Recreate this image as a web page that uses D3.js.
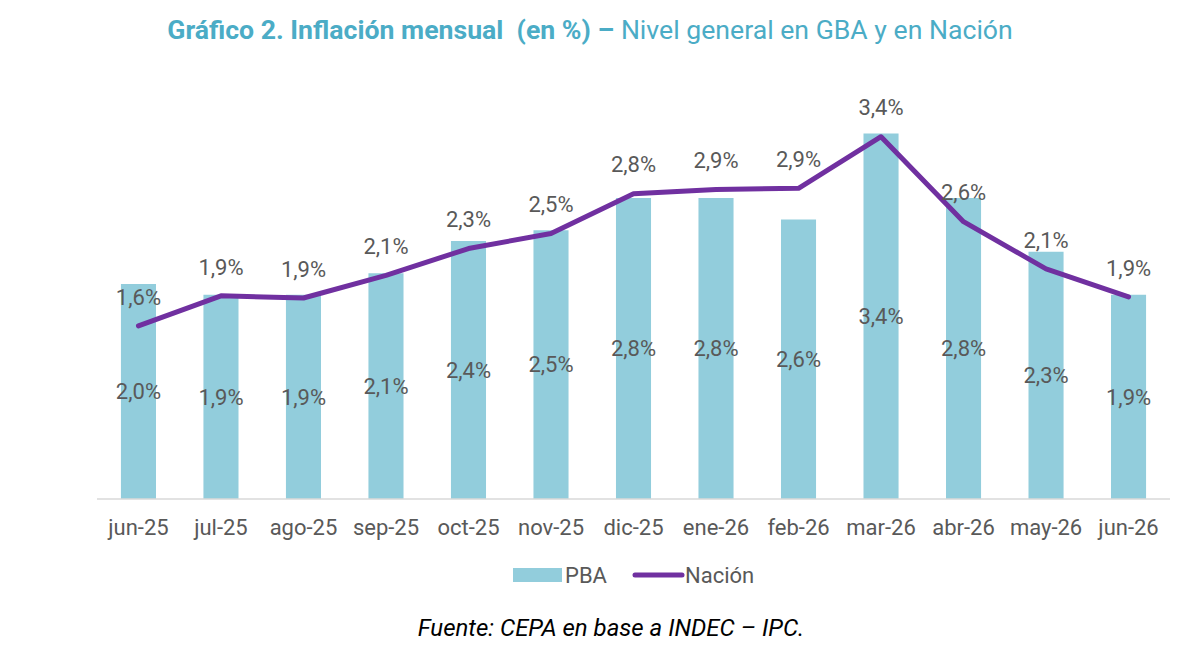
<!DOCTYPE html>
<html>
<head>
<meta charset="utf-8">
<script src="https://cdn.jsdelivr.net/npm/d3@7"></script>
<style>
  body { margin: 0; background: #fff; }
  text { font-family: Roboto, "Open Sans", sans-serif; }
</style>
</head>
<body>
<div id="chart"></div>
<script>
// datos
var months = ["jun-25", "jul-25", "ago-25", "sep-25", "oct-25", "nov-25", "dic-25",
  "ene-26", "feb-26", "mar-26", "abr-26", "may-26", "jun-26"];
var pba = [2.0, 1.9, 1.9, 2.1, 2.4, 2.5, 2.8, 2.8, 2.6, 3.4, 2.8, 2.3, 1.9];
var nacion = [1.61, 1.89, 1.87, 2.08, 2.33, 2.47, 2.84, 2.88, 2.89, 3.37, 2.58, 2.14, 1.88];
var seriesNames = ["PBA", "Nación"];

var width = 1200, height = 662,
  margins = {top: 69, left: 97, right: 30, bottom: 163};

var svg = d3.select("#chart").append("svg")
  .attr("width", width)
  .attr("height", height);

var x = d3.scaleBand()
  .domain(months)
  .range([margins.left, width - margins.right])
  .paddingInner(0.575)
  .paddingOuter(0.29);

var y = d3.scaleLinear()
  .domain([0, 4])
  .range([height - margins.bottom, margins.top]);

var fmt = function (v) {
  return d3.format(".1f")(v).replace(".", ",") + "%";
};

var cx = function (d, i) { return x(months[i]) + x.bandwidth() / 2; };

// titulo
var title = svg.append("text")
  .attr("x", 590)
  .attr("y", 39)
  .attr("text-anchor", "middle")
  .style("font-size", "22px")
  .style("white-space", "pre")
  .style("fill", "#4bacc6");
title.append("tspan").style("font-weight", "bold").text("Gráfico 2. Inflación mensual  (en %) – ");
title.append("tspan").text("Nivel general en GBA y en Nación");
// ajustar al ancho del original
var tw = title.node().getComputedTextLength();
title.style("font-size", (22 * 846 / tw) + "px");

// barras
svg.selectAll("rect.bar")
  .data(pba)
  .enter().append("rect")
  .attr("class", "bar")
  .attr("x", function (d, i) { return x(months[i]); })
  .attr("y", function (d) { return y(d); })
  .attr("width", x.bandwidth())
  .attr("height", function (d) { return y(0) - y(d); })
  .style("fill", "#92cddc");

// eje x
var xAxis = svg.append("g")
  .attr("transform", "translate(0," + y(0) + ")")
  .call(d3.axisBottom(x).tickSize(0).tickPadding(20));
xAxis.select(".domain").attr("stroke", "#d9d9d9").attr("stroke-width", 1.5)
  .attr("d", "M" + margins.left + ",0H" + (width - margins.right));
xAxis.selectAll("text")
  .style("font-size", "22px")
  .style("fill", "#595959")
  .style("font-family", "Roboto, sans-serif");

// etiquetas barras
svg.selectAll("text.barlabel")
  .data(pba)
  .enter().append("text")
  .attr("class", "barlabel")
  .attr("x", cx)
  .attr("y", function (d) { return (y(d) + y(0)) / 2; })
  .attr("dy", "0.35em")
  .attr("text-anchor", "middle")
  .style("font-size", "22px")
  .style("fill", "#595959")
  .text(fmt);

// linea Nacion
var line = d3.line()
  .x(cx)
  .y(function (d) { return y(d); });

svg.append("path")
  .datum(nacion)
  .attr("d", line)
  .style("fill", "none")
  .style("stroke", "#7030a0")
  .style("stroke-width", 5)
  .style("stroke-linejoin", "round")
  .style("stroke-linecap", "round");

svg.selectAll("text.linelabel")
  .data(nacion)
  .enter().append("text")
  .attr("class", "linelabel")
  .attr("x", cx)
  .attr("y", function (d) { return y(d) - 29; })
  .attr("dy", "0.35em")
  .attr("text-anchor", "middle")
  .style("font-size", "22px")
  .style("fill", "#595959")
  .text(fmt);

// leyenda
var legend = svg.append("g");
legend.append("rect")
  .attr("x", 513).attr("y", 568)
  .attr("width", 49).attr("height", 14)
  .style("fill", "#92cddc");
legend.append("text")
  .attr("x", 565).attr("y", 575).attr("dy", "0.35em")
  .style("font-size", "22px").style("fill", "#595959")
  .text(seriesNames[0]);
legend.append("line")
  .attr("x1", 635).attr("x2", 682)
  .attr("y1", 575).attr("y2", 575)
  .style("stroke", "#7030a0").style("stroke-width", 5)
  .style("stroke-linecap", "round");
legend.append("text")
  .attr("x", 685).attr("y", 575).attr("dy", "0.35em")
  .style("font-size", "22px").style("fill", "#595959")
  .text(seriesNames[1]);

// fuente
svg.append("text")
  .attr("x", 611)
  .attr("y", 636)
  .attr("text-anchor", "middle")
  .style("font-size", "24px")
  .style("font-style", "italic")
  .style("fill", "#000")
  .text("Fuente: CEPA en base a INDEC – IPC.");
</script>
</body>
</html>
